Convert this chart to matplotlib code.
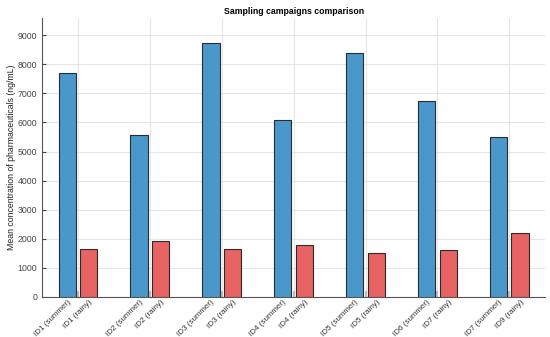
import matplotlib
matplotlib.use('Agg')
import matplotlib.pyplot as plt
import numpy as np

plt.rcParams['font.family'] = ['Liberation Sans', 'DejaVu Sans']

# data
sites = [1, 2, 3, 4, 5, 6, 7]
summer_vals = [7710, 5555, 8730, 6095, 8400, 6725, 5485]
rainy_vals = [1650, 1915, 1665, 1800, 1525, 1605, 2200]
tick_labels = ['ID1 (summer)', 'ID1 (rainy)', 'ID2 (summer)', 'ID2 (rainy)',
               'ID3 (summer)', 'ID3 (rainy)', 'ID4 (summer)', 'ID4 (rainy)',
               'ID5 (summer)', 'ID5 (rainy)', 'ID6 (summer)', 'ID7 (rainy)',
               'ID7 (summer)', 'ID9 (rainy)']

BLUE = '#4a98cb'
RED = '#e86464'
EDGE = '#2b2b2b'
OFFSET = 0.15
WIDTH = 0.24

fig = plt.figure(figsize=(5.5, 3.37), dpi=100)
ax = fig.add_axes([0.0764, 0.119, 0.915, 0.828])

x = np.array(sites, dtype=float)
ax.bar(x - OFFSET, summer_vals, WIDTH, color=BLUE, edgecolor=EDGE, linewidth=0.8, zorder=3)
ax.bar(x + OFFSET, rainy_vals, WIDTH, color=RED, edgecolor=EDGE, linewidth=0.8, zorder=3)

#x ticks at each bar, grid lines at group centres
pos = np.ravel(np.column_stack([x - OFFSET, x + OFFSET]))
ax.set_xticks(pos)
ax.set_xticklabels(tick_labels, rotation=45, ha='right', rotation_mode='anchor',
                   fontsize=5.8, color='#333333')
ax.set_xticks(x, minor=True)
ax.tick_params(axis='x', which='major', length=0, pad=1.5)
ax.tick_params(axis='x', which='minor', direction='in', length=4, width=1.5, color='#bbbbbb')
ax.grid(axis='x', which='minor', color='#e6e6e6', linewidth=0.8, zorder=0)

ax.set_xlim(0.5, 7.5)
ax.set_ylim(0, 9600)
ax.set_yticks(range(0, 10000, 1000))
ax.tick_params(axis='y', direction='in', length=3, labelsize=6.3, colors='#444444')
ax.grid(axis='y', which='major', color='#e6e6e6', linewidth=0.8, zorder=0)

for s in ['top', 'right']:
    ax.spines[s].set_visible(False)
for s in ['left', 'bottom']:
    ax.spines[s].set_color('#555555')
    ax.spines[s].set_linewidth(0.8)

ax.set_ylabel('Mean concentration of pharmaceuticals (ng/mL)', fontsize=6.3, color='#222222', labelpad=1)
ax.set_title('Sampling campaigns comparison', fontsize=6.3, fontweight='bold', pad=3)

fig.savefig('out.png', dpi=100)
